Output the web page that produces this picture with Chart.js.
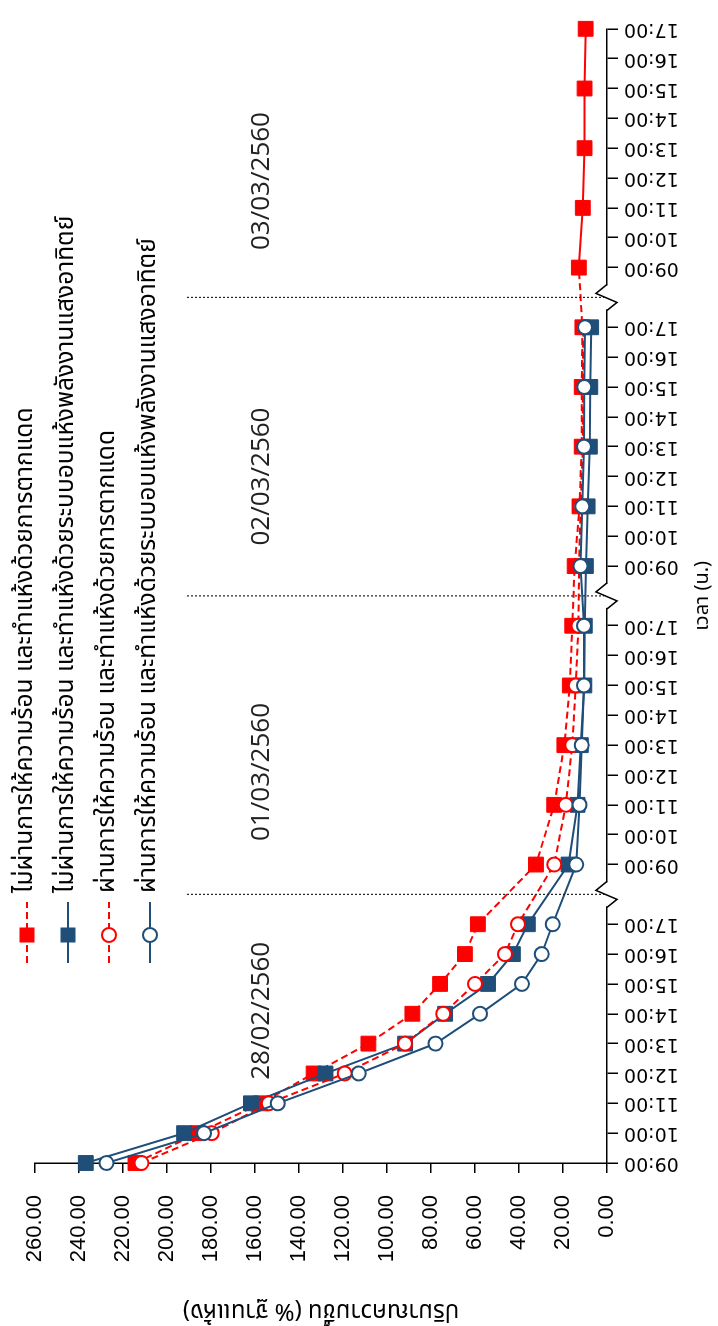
<!DOCTYPE html>
<html>
<head>
<meta charset="utf-8">
<script src="https://cdn.jsdelivr.net/npm/chart.js@4.4.1/dist/chart.umd.min.js"></script>
<style>
  html, body { margin: 0; padding: 0; background: #fff; }
  body { width: 718px; height: 1326px; overflow: hidden; position: relative; }
  /* the chart is drawn landscape and turned a quarter turn, like the scan */
  #wrap { position: absolute; left: 0; top: 0; width: 1326px; height: 718px;
          transform-origin: 0 0; transform: translate(0, 1326px) rotate(-90deg); }
</style>
</head>
<body>
<div id="wrap"><canvas id="chart" width="1326" height="718"></canvas></div>
<script>
const hours = ['09:00', '10:00', '11:00', '12:00', '13:00', '14:00', '15:00', '16:00', '17:00'];
// one empty slot between days for the axis break
const timeLabels = [...hours, '', ...hours, '', ...hours, '', ...hours];
const breakSlots = [9, 19, 29];

const dayLabels = ['28/02/2560', '01/03/2560', '02/03/2560', '03/03/2560'];
const dayLabelSlot = [5.1, 13.1, 23, 32.9];

const seriesNames = [
    'ไม่ผ่านการให้ความร้อน และทำแห้งด้วยการตากแดด',
    'ไม่ผ่านการให้ความร้อน และทำแห้งด้วยระบบอบแห้งพลังงานแสงอาทิตย์',
    'ผ่านการให้ความร้อน และทำแห้งด้วยการตากแดด',
    'ผ่านการให้ความร้อน และทำแห้งด้วยระบบอบแห้งพลังงานแสงอาทิตย์'
];

const _ = null;
// moisture, % dry basis
const rawSun = [214.4, 186.0, 157.4, 133.4, 108.5, 88.5, 75.9, 64.6, 58.7, _,
    32.3, _, 24.0, _, 19.4, _, 16.9, _, 15.8, _,
    14.7, _, 12.5, _, 11.5, _, 11.5, _, 11.2, _,
    12.8, _, 11.0, _, 10.2, _, 10.2, _, 9.7];
const rawSolar = [237.0, 192.3, 161.9, 128.0, 91.8, 73.6, 54.1, 42.8, 36.0, _,
    17.5, _, 13.4, _, 11.9, _, 10.3, _, 10.1, _,
    9.6, _, 8.8, _, 7.8, _, 7.6, _, 7.2, _,
    _, _, _, _, _, _, _, _, _];
const heatSun = [211.7, 179.7, 153.8, 119.3, 91.8, 74.5, 60.0, 46.4, 40.5, _,
    24.0, _, 18.7, _, 15.8, _, 14.2, _, 13.0, _,
    12.7, _, 12.0, _, 11.0, _, 11.0, _, 10.8, _,
    _, _, _, _, _, _, _, _, _];
const heatSolar = [227.6, 183.2, 149.7, 112.9, 78.0, 57.7, 38.7, 29.7, 24.7, _,
    14.0, _, 12.5, _, 11.5, _, 10.5, _, 10.5, _,
    12.0, _, 11.2, _, 10.5, _, 10.3, _, 10.0, _,
    _, _, _, _, _, _, _, _, _];

const RED = '#ff0000';
const NAVY = '#1f4e79';
const THAI = '"Noto Sans Thai", "Noto Sans", "DejaVu Sans", sans-serif';

function series(label, data, color, filled, dashed, order) {
    return {
        label: label,
        data: data,
        order: order,
        borderColor: color,
        borderWidth: 2,
        borderDash: dashed ? [7, 4] : [],
        spanGaps: true,
        tension: 0,
        pointStyle: filled ? 'rect' : 'circle',
        pointRadius: filled ? 10.5 : 7,
        pointBorderWidth: filled ? 1 : 2,
        pointBorderColor: color,
        pointBackgroundColor: filled ? color : '#ffffff',
        segment: dashed && filled ? {
            borderDash: (c) => c.p0DataIndex >= 30 ? [] : [7, 4]
        } : undefined
    };
}

const decor = {
    id: 'decor',
    afterDraw(chart) {
        const ctx = chart.ctx;
        const xs = chart.scales.x;
        const area = chart.chartArea;
        ctx.save();

        // dotted day separators and axis breaks
        breakSlots.forEach((slot) => {
            const x = xs.getPixelForValue(slot);
            ctx.setLineDash([2, 2]);
            ctx.strokeStyle = '#222';
            ctx.lineWidth = 1.2;
            ctx.beginPath();
            ctx.moveTo(x, 187);
            ctx.lineTo(x, area.bottom - 2);
            ctx.stroke();

            ctx.setLineDash([]);
            ctx.fillStyle = '#fff';
            ctx.fillRect(x - 12, area.bottom - 3, 24, 6);
            ctx.strokeStyle = '#000';
            ctx.lineWidth = 1.5;
            ctx.beginPath();
            ctx.moveTo(x - 13, area.bottom);
            ctx.lineTo(x - 5, area.bottom + 10);
            ctx.lineTo(x + 4, area.bottom - 11);
            ctx.lineTo(x + 13, area.bottom);
            ctx.stroke();
        });

        // day captions
        ctx.fillStyle = '#222';
        ctx.font = '26px "Open Sans", sans-serif';
        ctx.textAlign = 'center';
        ctx.textBaseline = 'middle';
        dayLabels.forEach((d, i) => {
            ctx.fillText(d, xs.getPixelForValue(dayLabelSlot[i]), 262);
        });

        // legend: line + marker + text
        ctx.textAlign = 'left';
        ctx.font = '24.5px ' + THAI;
        chart.data.datasets.forEach((ds, i) => {
            const y = 27 + i * 41;
            ctx.strokeStyle = ds.borderColor;
            ctx.lineWidth = 2;
            ctx.setLineDash(ds.borderDash);
            ctx.beginPath();
            ctx.moveTo(363, y);
            ctx.lineTo(424, y);
            ctx.stroke();
            ctx.setLineDash([]);
            ctx.fillStyle = ds.pointBackgroundColor;
            if (ds.pointStyle === 'rect') {
                ctx.fillStyle = ds.borderColor;
                ctx.fillRect(391 - 7.5, y - 7.5, 15, 15);
            } else {
                ctx.beginPath();
                ctx.arc(391, y, 7, 0, Math.PI * 2);
                ctx.fill();
                ctx.stroke();
            }
            ctx.fillStyle = '#000';
            ctx.fillText(ds.label, 433, y);
        });
        ctx.restore();
    }
};

new Chart(document.getElementById('chart'), {
    type: 'line',
    data: {
        labels: timeLabels,
        datasets: [
            series(seriesNames[0], rawSun, RED, true, true, 4),
            series(seriesNames[1], rawSolar, NAVY, true, false, 3),
            series(seriesNames[2], heatSun, RED, false, true, 2),
            series(seriesNames[3], heatSolar, NAVY, false, false, 1)
        ]
    },
    options: {
        responsive: false,
        animation: false,
        devicePixelRatio: 1,
        layout: {
            padding: { top: 33, right: 12, bottom: 0, left: 0 }
        },
        scales: {
            x: {
                type: 'category',
                offset: false,
                afterFit: (s) => { s.height = 111; },
                grid: {
                    drawOnChartArea: false,
                    tickLength: 11,
                    lineWidth: 1.5,
                    color: (c) => timeLabels[c.index] ? '#000' : 'rgba(0,0,0,0)'
                },
                border: { color: '#000', width: 1.5 },
                ticks: {
                    autoSkip: false,
                    minRotation: 90,
                    maxRotation: 90,
                    padding: 6,
                    color: '#000',
                    font: { family: 'DejaVu Sans', size: 19 }
                },
                title: {
                    display: true,
                    text: 'เวลา (น.)',
                    color: '#000',
                    font: { family: THAI, size: 20 },
                    padding: { top: 0, bottom: 2 }
                }
            },
            y: {
                min: 0,
                max: 260,
                afterFit: (s) => { s.width = 163; },
                grid: {
                    drawOnChartArea: false,
                    tickLength: 10,
                    lineWidth: 1.5,
                    color: '#000'
                },
                border: { color: '#000', width: 1.5 },
                ticks: {
                    stepSize: 20,
                    padding: 22,
                    color: '#000',
                    font: { family: 'Liberation Sans', size: 22 },
                    callback: (v) => v.toFixed(2)
                },
                title: {
                    display: true,
                    text: 'ปริมาณความชื้น (% ฐานแห้ง)',
                    color: '#000',
                    font: { family: THAI, size: 24 },
                    padding: { top: 3, bottom: 0 }
                }
            }
        },
        plugins: {
            legend: { display: false },
            tooltip: { enabled: false }
        }
    },
    plugins: [decor]
});
</script>
</body>
</html>
